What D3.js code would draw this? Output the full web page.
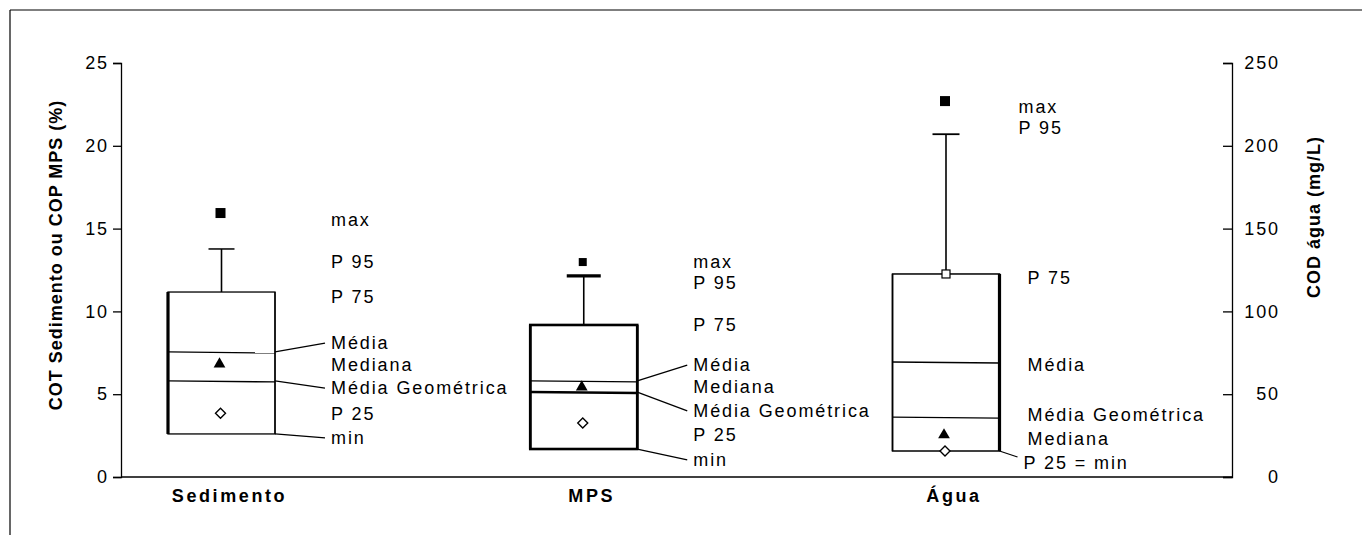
<!DOCTYPE html>
<html><head><meta charset="utf-8">
<script src="https://cdn.jsdelivr.net/npm/d3@7"></script>
<style>
body{margin:0;background:#fff;}
text{font-family:"Liberation Sans",Arial,sans-serif;fill:#000;}
</style></head>
<body>
<svg id="c" width="1362" height="535"></svg>
<script>
// ---- data ----
const categories = ["Sedimento", "MPS", "Água"];
const axisOf     = ["left", "left", "right"];
const maxV       = [15.94, 12.98, 227];
const p95        = [13.77, 12.14, 207];
const p75        = [11.17, 9.18, 122.6];
const media      = [7.55, 5.8, 69.4];
const mediaGeom  = [5.8, 5.13, 36.2];
const mediana    = [6.82, 5.43, 25.4];
const p25        = [3.85, 3.26, 15.7];
const minV       = [2.6, 1.69, 15.7];
const leftTicks  = [0, 5, 10, 15, 20, 25];
const rightTicks = [0, 50, 100, 150, 200, 250];
// annotation texts with their anchor values (same units as the box)
const labelsSed = [["max",15.52],["P 95",12.98],["P 75",10.87],["Média",8.09],["Mediana",6.76],["Média Geométrica",5.37],["P 25",3.8],["min",2.36]];
const labelsMPS = [["max",12.98],["P 95",11.71],["P 75",9.18],["Média",6.76],["Mediana",5.43],["Média Geométrica",3.99],["P 25",2.54],["min",1.03]];
const labelsAgua = [["max",223.4],["P 95",210.7],["P 75",120.2],["Média",67.6],["Média Geométrica",37.5],["Mediana",22.9],["P 25 = min",8.45]];

// ---- layout ----
const svg = d3.select("#c");
const yL = d3.scaleLinear().domain([0, 25]).range([477, 63]);
const yR = d3.scaleLinear().domain([0, 250]).range([477, 63]);
const x = d3.scalePoint().domain(categories).range([221.5, 946]);
const axL = 121, axR = 1232, halfW = 53.5;
const fs = 18, ls = 1.9;

// frame
svg.append("line").attr("x1",10).attr("y1",10).attr("x2",1362).attr("y2",10).attr("stroke","#000").attr("stroke-width",1.2);
svg.append("line").attr("x1",10).attr("y1",10).attr("x2",10).attr("y2",535).attr("stroke","#000").attr("stroke-width",1.2);

// left axis
const gL = svg.append("g").attr("transform",`translate(${axL},0)`)
  .call(d3.axisLeft(yL).tickValues(leftTicks).tickSize(8).tickPadding(6).tickFormat(d3.format("d")));
// right axis (ticks inside)
const gR = svg.append("g").attr("transform",`translate(${axR},0)`)
  .call(d3.axisLeft(yR).tickValues(rightTicks).tickSize(9).tickFormat(""));
[gL, gR].forEach(g => { g.select(".domain").attr("stroke","#000").attr("stroke-width",1.3);
  g.selectAll(".tick line").attr("stroke","#000").attr("stroke-width",1.3); });
gL.selectAll(".tick text").attr("font-size",fs).attr("letter-spacing",ls).attr("font-family","Liberation Sans").attr("x",-12);
gR.selectAll(".tick").append("text").attr("x",48).attr("dy","0.32em").attr("text-anchor","end")
  .attr("font-size",fs).attr("letter-spacing",ls).attr("fill","#000").text(d => d);
// x axis baseline
svg.append("line").attr("x1",axL).attr("x2",axR).attr("y1",yL(0)).attr("y2",yL(0)).attr("stroke","#000").attr("stroke-width",1.3);

// axis titles
svg.append("text").attr("transform",`translate(62,255) rotate(-90)`).attr("text-anchor","middle")
  .attr("font-size",18).attr("font-weight","bold").attr("letter-spacing",1.0).text("COT Sedimento ou COP MPS (%)");
svg.append("text").attr("transform",`translate(1320,217) rotate(-90)`).attr("text-anchor","middle")
  .attr("font-size",18).attr("font-weight","bold").attr("letter-spacing",1.0).text("COD água (mg/L)");

// category labels
svg.selectAll("text.cat").data(categories).join("text").attr("class","cat")
  .attr("x", d => x(d) + 8).attr("y", 502).attr("text-anchor","middle")
  .attr("font-size",18).attr("font-weight","bold").attr("letter-spacing",2.6).text(d => d);

// box styles per category
const style = [
  {box:1.3, left:3.2, right:1.3, cap:1.5, capW:26, mid:[1.3,1.3], sq:10},
  {box:2.6, left:2.6, right:2.6, cap:3.2, capW:34, mid:[1.3,2.6], sq:8},
  {box:1.5, left:1.5, right:3.2, cap:1.8, capW:27, mid:[1.6,1.3], sq:10}
];
const labelSets = [labelsSed, labelsMPS, labelsAgua];
const labelX = [[56,56,56,56,56,56,56,56],[56,56,56,56,56,56,56,56],[19,19,28,28,28,28,24]];

categories.forEach((c, i) => {
  const y = axisOf[i] === "left" ? yL : yR;
  const cx = x(c), x0 = cx - halfW, x1 = cx + halfW, st = style[i];
  const g = svg.append("g");
  // whisker
  g.append("line").attr("x1",cx).attr("x2",cx).attr("y1",y(p75[i])).attr("y2",y(p95[i])).attr("stroke","#000").attr("stroke-width",1.6);
  g.append("line").attr("x1",cx-st.capW/2).attr("x2",cx+st.capW/2).attr("y1",y(p95[i])).attr("y2",y(p95[i])).attr("stroke","#000").attr("stroke-width",st.cap);
  // box
  g.append("rect").attr("x",x0).attr("y",y(p75[i])).attr("width",x1-x0).attr("height",y(minV[i])-y(p75[i]))
    .attr("fill","none").attr("stroke","#000").attr("stroke-width",st.box);
  g.append("line").attr("x1",x0).attr("x2",x0).attr("y1",y(p75[i])).attr("y2",y(minV[i])).attr("stroke","#000").attr("stroke-width",st.left);
  g.append("line").attr("x1",x1).attr("x2",x1).attr("y1",y(p75[i])).attr("y2",y(minV[i])).attr("stroke","#000").attr("stroke-width",st.right);
  // inner lines
  g.append("line").attr("x1",x0).attr("x2",x1).attr("y1",y(media[i])).attr("y2",y(media[i])+1).attr("stroke","#000").attr("stroke-width",st.mid[0]);
  g.append("line").attr("x1",x0).attr("x2",x1).attr("y1",y(mediaGeom[i])).attr("y2",y(mediaGeom[i])+1).attr("stroke","#000").attr("stroke-width",st.mid[1]);
  // max marker
  g.append("rect").attr("x",cx - st.sq/2 - 1).attr("y",y(maxV[i]) - st.sq/2).attr("width",st.sq).attr("height",st.sq).attr("fill","#000");
  // median triangle
  g.append("path").attr("d", d3.symbol(d3.symbolTriangle, 60)()).attr("transform",`translate(${cx-2},${y(mediana[i])})`).attr("fill","#000");
  // p25 diamond
  g.append("path").attr("d","M0,-5L5,0L0,5L-5,0Z").attr("transform",`translate(${cx-1},${y(p25[i])})`)
    .attr("fill","#fff").attr("stroke","#000").attr("stroke-width",1.4);
  if (i === 2) {
    g.append("rect").attr("x",cx-4).attr("y",y(p75[i])-4).attr("width",8).attr("height",8).attr("fill","#fff").attr("stroke","#000").attr("stroke-width",1.2);
  }
  // annotation labels
  const ls0 = labelSets[i];
  ls0.forEach(([t, v], j) => {
    g.append("text").attr("x", x1 + labelX[i][j]).attr("y", y(v)).attr("dy","0.35em")
      .attr("font-size",fs).attr("letter-spacing",ls).text(t);
  });
  // pointer lines
  const find = name => ls0.find(d => d[0] === name);
  const pointers = i === 2 ? [[minV[i], "P 25 = min"]] : [[media[i],"Média"],[mediaGeom[i],"Média Geométrica"],[minV[i],"min"]];
  pointers.forEach(([v, name]) => {
    const lab = find(name), j = ls0.indexOf(lab);
    const ex = x1 + labelX[i][j] - 6, ey = y(lab[1]) - (i === 2 ? 6 : 0);
    g.append("line").attr("x1",x1).attr("y1",y(v)).attr("x2",ex).attr("y2",ey).attr("stroke","#000").attr("stroke-width",1.3);
  });
});
</script>
</body></html>
